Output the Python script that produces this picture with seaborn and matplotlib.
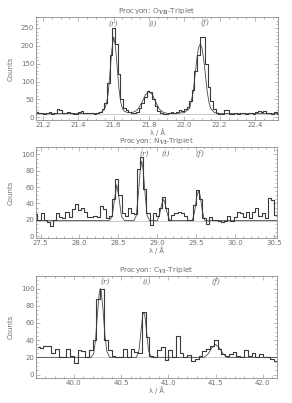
import numpy as np
import pandas as pd
import matplotlib
matplotlib.use('Agg')
import matplotlib.pyplot as plt
from matplotlib.ticker import MultipleLocator
import seaborn as sns

# --- O VII triplet ---
o7_start, o7_step = 21.165, 0.015
o7_counts = [14, 12, 13, 10, 12, 15, 9, 11, 22, 20,
             13, 12, 14, 11, 9, 8, 15, 17, 12, 13,
             11, 12, 10, 11, 14, 22, 40, 95, 175, 250,
             205, 120, 50, 25, 20, 15, 13, 12, 15, 25,
             40, 58, 74, 70, 52, 32, 18, 12, 10, 9,
             11, 14, 12, 15, 20, 17, 22, 30, 45, 75,
             130, 175, 225, 225, 150, 85, 45, 22, 12, 9,
             8, 20, 20, 10, 8, 12, 10, 12, 11, 10,
             13, 12, 10, 15, 17, 14, 18, 11, 12, 10,
             14, 9]
o7_fit_wl = [21.16, 21.50, 21.53, 21.55, 21.56, 21.57, 21.58, 21.59, 21.60, 21.61,
             21.62, 21.63, 21.64, 21.65, 21.66, 21.68, 21.70, 21.72, 21.74, 21.76,
             21.78, 21.80, 21.82, 21.84, 21.86, 21.88, 21.90, 21.95, 22.00, 22.03,
             22.05, 22.06, 22.07, 22.08, 22.09, 22.10, 22.11, 22.12, 22.13, 22.14,
             22.15, 22.17, 22.20, 22.53]
o7_fit = [10, 10.5, 13, 25, 40, 70, 130, 190, 225, 200,
          140, 80, 42, 24, 17, 13, 13, 16, 24, 42,
          63, 73, 63, 40, 22, 14, 11, 10.5, 13, 25,
          70, 115, 160, 195, 205, 195, 160, 115, 70, 40,
          24, 13, 10.5, 10]
o7_base = 10
o7_lines = {'(r)': (21.60, 263), '(i)': (21.82, 263), '(f)': (22.12, 263)}

# --- N VI triplet ---
n6_start, n6_step = 27.44, 0.04
n6_counts = [27, 20, 28, 20, 17, 12, 20, 28, 24, 22,
             30, 24, 33, 39, 32, 34, 29, 24, 23, 25,
             24, 37, 33, 22, 25, 45, 70, 50, 28, 25,
             35, 28, 27, 82, 97, 58, 28, 14, 28, 25,
             35, 48, 35, 20, 26, 28, 30, 28, 25, 20,
             20, 38, 57, 45, 22, 15, 24, 20, 20, 19,
             17, 18, 25, 19, 24, 30, 28, 24, 29, 22,
             30, 34, 25, 28, 22, 47, 44, 26]
n6_fit_wl = [27.44, 28.38, 28.42, 28.45, 28.48, 28.51, 28.54, 28.58, 28.70, 28.73,
             28.76, 28.78, 28.80, 28.82, 28.84, 28.87, 28.90, 29.00, 29.03, 29.06,
             29.08, 29.10, 29.13, 29.16, 29.45, 29.48, 29.51, 29.53, 29.55, 29.58,
             29.61, 30.54]
n6_fit = [19, 19, 24, 45, 63, 45, 24, 19, 19, 25,
          55, 80, 92, 80, 55, 25, 19, 19, 27, 40,
          45, 40, 27, 19, 19, 30, 50, 55, 50, 30,
          19, 19]
n6_base = 19
n6_lines = {'(r)': (28.84, 101), '(i)': (29.11, 101), '(f)': (29.55, 101)}

# --- C VI triplet ---
c6_start, c6_step = 39.62, 0.04
c6_counts = [32, 31, 33, 33, 25, 30, 20, 20, 30, 22,
             14, 29, 27, 20, 28, 40, 88, 100, 40, 28,
             22, 20, 20, 30, 21, 30, 26, 25, 73, 44,
             22, 20, 28, 32, 17, 28, 20, 45, 25, 20,
             23, 16, 18, 22, 27, 30, 33, 40, 30, 24,
             22, 24, 26, 22, 20, 28, 22, 25, 20, 24,
             21, 20, 18, 16]
c6_fit_wl = [39.60, 40.18, 40.21, 40.23, 40.25, 40.27, 40.28, 40.29, 40.31, 40.33,
             40.35, 40.38, 40.66, 40.69, 40.71, 40.73, 40.74, 40.75, 40.77, 40.79,
             40.82, 41.38, 41.42, 41.46, 41.50, 41.54, 41.58, 41.62, 42.15]
c6_fit = [20, 20, 24, 40, 70, 95, 100, 97, 75, 45,
          27, 20, 20, 28, 50, 70, 72, 70, 50, 28,
          20, 20, 24, 31, 35, 31, 24, 20, 20]
c6_base = 20
c6_lines = {'(r)': (40.34, 108), '(i)': (40.77, 108), '(f)': (41.51, 108)}

sns.set_style('ticks')
plt.rcParams['font.family'] = ['DejaVu Sans']
plt.rcParams['mathtext.fontset'] = 'dejavuserif'

txt_col = '#707070'
line_col = '#3a3a3a'

panels = [
    dict(title=r'Procyon: O$_{\mathbf{VII}}$-Triplet', start=o7_start, step=o7_step,
         counts=o7_counts, fit_wl=o7_fit_wl, fit=o7_fit, base=o7_base, lines=o7_lines,
         rect=[0.123, 0.702, 0.829, 0.256], xlim=(21.16, 22.53), ylim=(-8, 281),
         xmaj=0.2, xmin=0.05, ymaj=50, ymin=10),
    dict(title=r'Procyon: N$_{\mathbf{VI}}$-Triplet', start=n6_start, step=n6_step,
         counts=n6_counts, fit_wl=n6_fit_wl, fit=n6_fit, base=n6_base, lines=n6_lines,
         rect=[0.123, 0.409, 0.826, 0.226], xlim=(27.44, 30.54), ylim=(-2.5, 109),
         xmaj=0.5, xmin=0.1, ymaj=20, ymin=5),
    dict(title=r'Procyon: C$_{\mathbf{VI}}$-Triplet', start=c6_start, step=c6_step,
         counts=c6_counts, fit_wl=c6_fit_wl, fit=c6_fit, base=c6_base, lines=c6_lines,
         rect=[0.123, 0.062, 0.826, 0.253], xlim=(39.6, 42.15), ylim=(-4, 114.5),
         xmaj=0.5, xmin=0.1, ymaj=20, ymin=5),
]

fig = plt.figure(figsize=(2.92, 4.03), dpi=100)

for p in panels:
    ax = fig.add_axes(p['rect'])
    wl = p['start'] + p['step'] * np.arange(len(p['counts']))
    df = pd.DataFrame({'wl': wl, 'counts': p['counts']})
    fit_df = pd.DataFrame({'wl': p['fit_wl'], 'fit': p['fit']})

    ax.axhline(p['base'], color='#b5b5b5', lw=0.5, zorder=1)
    sns.lineplot(data=fit_df, x='wl', y='fit', ax=ax, color='#4a4a4a', lw=0.6,
                 estimator=None, sort=False, zorder=2)
    sns.lineplot(data=df, x='wl', y='counts', ax=ax, color=line_col, lw=0.8,
                 drawstyle='steps-mid', estimator=None, sort=False, zorder=3)

    for lab, (lx, ly) in p['lines'].items():
        ax.text(lx, ly, lab, fontsize=5.5, color=txt_col, ha='center', va='center',
                family='DejaVu Serif', style='italic')

    ax.set_xlim(p['xlim'])
    ax.set_ylim(p['ylim'])
    ax.xaxis.set_major_locator(MultipleLocator(p['xmaj']))
    ax.xaxis.set_minor_locator(MultipleLocator(p['xmin']))
    ax.yaxis.set_major_locator(MultipleLocator(p['ymaj']))
    ax.yaxis.set_minor_locator(MultipleLocator(p['ymin']))
    ax.xaxis.set_major_formatter(matplotlib.ticker.FormatStrFormatter('%.1f'))
    ax.tick_params(which='both', direction='in', top=True, right=True,
                   labelsize=5, colors='#888888', labelcolor=txt_col, width=0.4, pad=1.2)
    ax.tick_params(which='major', length=3)
    ax.tick_params(which='minor', length=1.5)
    for s in ax.spines.values():
        s.set_linewidth(0.5)
        s.set_color('#777777')

    ax.set_title(p['title'], fontsize=5.3, color=txt_col, pad=0.8)
    ax.set_xlabel('λ / Å', fontsize=4.8, color=txt_col, labelpad=0.2)
    ax.set_ylabel('Counts', fontsize=5, color=txt_col, labelpad=5)

fig.savefig('out.png', dpi=100)
